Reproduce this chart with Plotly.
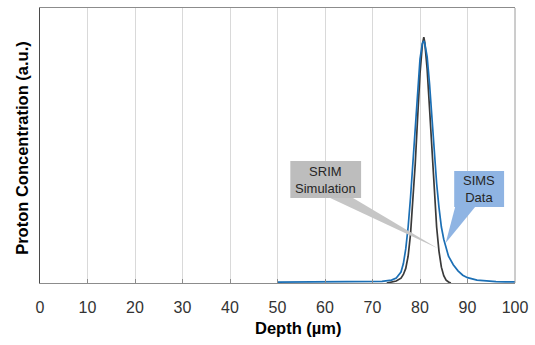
import plotly.graph_objects as go

# Data (arbitrary units, peak ~1)
sims_x = [50, 55, 60, 65, 70, 72, 74, 75, 76, 76.5, 77, 77.5, 78, 78.5, 79, 79.5, 80, 80.5, 80.8,
          81, 81.5, 82, 82.5, 83, 83.5, 84, 84.5, 85, 85.5, 86, 87, 88, 89, 90, 92, 94, 96, 98, 100]
sims_y = [0.004, 0.004, 0.004, 0.004, 0.005, 0.007, 0.012, 0.02, 0.045, 0.08, 0.14, 0.23, 0.35, 0.49,
          0.64, 0.79, 0.92, 0.985, 0.995, 0.985, 0.93, 0.82, 0.68, 0.53, 0.41, 0.31, 0.23, 0.18, 0.14,
          0.11, 0.075, 0.05, 0.032, 0.022, 0.012, 0.008, 0.006, 0.005, 0.005]

srim_x = [73, 74, 75, 76, 76.5, 77, 77.5, 78, 78.5, 79, 79.5, 80, 80.5, 80.8, 81, 81.5, 82, 82.5,
          83, 83.5, 84, 84.5, 85, 85.5, 86, 86.5]
srim_y = [0.0, 0.003, 0.008, 0.02, 0.035, 0.06, 0.11, 0.2, 0.33, 0.49, 0.68, 0.86, 0.98, 1.01, 0.99,
          0.88, 0.72, 0.54, 0.37, 0.23, 0.13, 0.065, 0.03, 0.012, 0.004, 0.0]

x_ticks = [0, 10, 20, 30, 40, 50, 60, 70, 80, 90, 100]

fig = go.Figure()
fig.add_trace(go.Scatter(x=srim_x, y=srim_y, mode="lines", name="SRIM Simulation",
                         line=dict(color="#3a3a3a", width=1.7)))
fig.add_trace(go.Scatter(x=sims_x, y=sims_y, mode="lines", name="SIMS Data",
                         line=dict(color="#1b6fb5", width=1.7)))

# Callouts
fig.add_shape(type="path", xref="x", yref="y",
              path="M 61.1 0.349 L 83.7 0.143 L 65.9 0.349 Z",
              fillcolor="#c6c6c6", line=dict(width=0))
fig.add_shape(type="rect", xref="x", yref="y", x0=52.7, x1=67.6, y0=0.349, y1=0.501,
              fillcolor="#bdbdbd", line=dict(width=0))
fig.add_shape(type="path", xref="x", yref="y",
              path="M 87.4 0.312 L 85.4 0.164 L 91.6 0.312 Z",
              fillcolor="#8fb4e3", line=dict(width=0))
fig.add_shape(type="rect", xref="x", yref="y", x0=87.2, x1=97.7, y0=0.312, y1=0.46,
              fillcolor="#8fb4e3", line=dict(width=0))
# right border
fig.add_shape(type="line", xref="paper", yref="paper", x0=1, x1=1, y0=0, y1=1,
              line=dict(color="#9a9a9a", width=1))

fig.add_annotation(x=60.15, y=0.425, xref="x", yref="y", text="SRIM<br>Simulation",
                   showarrow=False, font=dict(family="Arial", size=13, color="#262626"))
fig.add_annotation(x=92.45, y=0.386, xref="x", yref="y", text="SIMS<br>Data",
                   showarrow=False, font=dict(family="Arial", size=13, color="#262626"))

fig.add_annotation(x=(21.7 - 40) / 478, y=(283 - 147.5) / 276, xref="paper", yref="paper",
                   text="<b>Proton Concentration (a.u.)</b>",
                   textangle=-90, showarrow=False, xanchor="center", yanchor="middle",
                   font=dict(family="Arial", size=16.5, color="#000000"))
fig.add_annotation(x=(300 - 40) / 478, y=-(328 - 283) / 276, xref="paper", yref="paper",
                   text="<b>Depth (µm)</b>",
                   showarrow=False, xanchor="center", yanchor="middle",
                   font=dict(family="Arial", size=16.5, color="#000000"))

fig.update_layout(
    width=535, height=345,
    margin=dict(l=40, r=15, t=7, b=62),
    paper_bgcolor="white", plot_bgcolor="white",
    showlegend=False,
    xaxis=dict(range=[0, 100], tickvals=x_ticks, ticktext=[str(t) for t in x_ticks],
               showgrid=True, gridcolor="#d9d9d9", gridwidth=1,
               showline=True, linecolor="#8c8c8c", linewidth=1, mirror=True,
               ticks="inside", ticklen=4, tickcolor="#8c8c8c",
               ticklabelstandoff=10,
               tickfont=dict(family="Arial", size=16, color="#333333"),
               zeroline=False, fixedrange=True),
    yaxis=dict(range=[0, 1.13], showticklabels=False, showgrid=False, ticks="",
               showline=True, linecolor="#4a4a4a", linewidth=1, mirror=False,
               zeroline=False, fixedrange=True),
)

fig.write_html("out.html", config={"displayModeBar": False},
               post_script="document.body.style.margin='0';document.body.style.overflow='hidden';")
